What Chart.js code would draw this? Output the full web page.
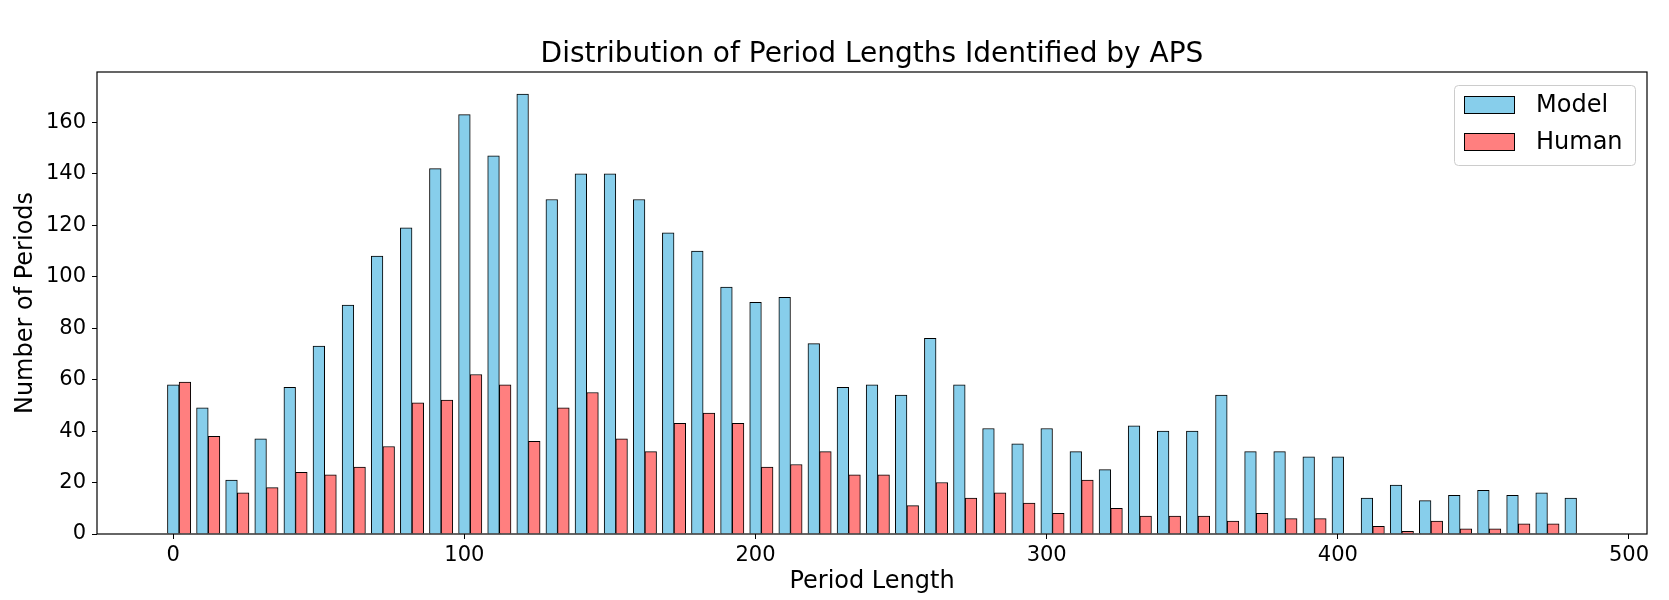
<!DOCTYPE html>
<html>
<head>
<meta charset="utf-8">
<title>Distribution of Period Lengths Identified by APS</title>
<script src="https://cdn.jsdelivr.net/npm/chart.js@4.4.1/dist/chart.umd.min.js"></script>
<style>
  html, body { margin: 0; padding: 0; background: #ffffff; }
  canvas { display: block; }
</style>
</head>
<body>
<canvas id="periodChart" width="1669" height="600"></canvas>
<script>
// bin positions (left bar of each pair sits on these)
const periodBins = [0, 10, 20, 30, 40, 50, 60, 70, 80, 90, 100, 110, 120, 130, 140, 150, 160,
  170, 180, 190, 200, 210, 220, 230, 240, 250, 260, 270, 280, 290, 300, 310, 320, 330,
  340, 350, 360, 370, 380, 390, 400, 410, 420, 430, 440, 450, 460, 470, 480];

const modelCounts = [58, 49, 21, 37, 57, 73, 89, 108, 119, 142, 163, 147, 171, 130, 140, 140, 130,
  117, 110, 96, 90, 92, 74, 57, 58, 54, 76, 58, 41, 35, 41, 32, 25, 42,
  40, 40, 54, 32, 32, 30, 30, 14, 19, 13, 15, 17, 15, 16, 14];

const humanCounts = [59, 38, 16, 18, 24, 23, 26, 34, 51, 52, 62, 58, 36, 49, 55, 37, 32,
  43, 47, 43, 26, 27, 32, 23, 23, 11, 20, 14, 16, 12, 8, 21, 10, 7,
  7, 7, 5, 8, 6, 6, 0, 3, 1, 5, 2, 2, 4, 4, 0];

const xTicks = [0, 100, 200, 300, 400, 500];
const yTicks = [0, 20, 40, 60, 80, 100, 120, 140, 160];

const seriesNames = ['Model', 'Human'];
const seriesColors = ['#87CEEB', '#FF7F7F'];

// human bar sits right next to the model bar, one bar width over
const barWidth = 4;

Chart.defaults.font.family = "'DejaVu Sans', sans-serif";
Chart.defaults.color = '#000000';

// black frame round the plot area, like matplotlib spines
const frame = {
  id: 'frame',
  afterDatasetsDraw(chart) {
    const { ctx, chartArea } = chart;
    ctx.save();
    ctx.strokeStyle = '#000000';
    ctx.lineWidth = 1.2;
    ctx.strokeRect(chartArea.left, chartArea.top,
      chartArea.right - chartArea.left, chartArea.bottom - chartArea.top);
    ctx.restore();
  }
};

// legend box drawn inside the upper right corner
const boxLegend = {
  id: 'boxLegend',
  afterDraw(chart) {
    const { ctx, chartArea } = chart;
    const w = 181, h = 80;
    const left = chartArea.right - 12 - w;
    const top = chartArea.top + 13;
    ctx.save();
    ctx.fillStyle = 'rgba(255,255,255,0.8)';
    ctx.strokeStyle = '#cccccc';
    ctx.lineWidth = 1;
    ctx.beginPath();
    ctx.roundRect(left + 0.5, top + 0.5, w, h, 4);
    ctx.fill();
    ctx.stroke();

    ctx.font = "24px 'DejaVu Sans', sans-serif";
    ctx.textBaseline = 'middle';
    ctx.textAlign = 'left';
    chart.data.datasets.forEach((ds, i) => {
      const cy = top + 20 + i * 37;
      ctx.fillStyle = ds.backgroundColor;
      ctx.fillRect(left + 10, cy - 9, 51, 18);
      ctx.strokeStyle = '#000000';
      ctx.strokeRect(left + 10.5, cy - 8.5, 50, 17);
      ctx.fillStyle = '#000000';
      ctx.fillText(ds.label, left + 82, cy + 1);
    });
    ctx.restore();
  }
};

const ctx = document.getElementById('periodChart');
new Chart(ctx, {
  type: 'bar',
  data: {
    datasets: [
      {
        label: seriesNames[0],
        data: periodBins.map((b, i) => ({ x: b, y: modelCounts[i] })),
        backgroundColor: seriesColors[0],
        borderColor: '#000000',
        borderWidth: 1,
      },
      {
        label: seriesNames[1],
        data: periodBins.map((b, i) => ({ x: b + barWidth, y: humanCounts[i] })),
        backgroundColor: seriesColors[1],
        borderColor: '#000000',
        borderWidth: 1,
      }
    ]
  },
  options: {
    responsive: false,
    animation: false,
    devicePixelRatio: 1,
    grouped: false,
    categoryPercentage: 1,
    barPercentage: 1,
    layout: { padding: { left: 0, right: 22, top: 0, bottom: 0 } },
    scales: {
      x: {
        type: 'linear',
        min: -26.2,
        max: 506.2,
        offset: false,
        afterFit: scale => { scale.height = 66; },
        afterBuildTicks: scale => { scale.ticks = xTicks.map(v => ({ value: v })); },
        grid: { offset: false, drawOnChartArea: false, drawTicks: true, tickLength: 5, color: '#000000' },
        border: { display: false },
        ticks: {
          maxRotation: 0,
          padding: 4,
          font: { size: 21 },
          callback: v => String(v),
        },
        title: {
          display: true,
          text: 'Period Length',
          font: { size: 24 },
          padding: { top: 0, bottom: 4 },
        },
      },
      y: {
        min: 0,
        max: 179.55,
        afterFit: scale => { scale.width = 97; },
        afterBuildTicks: scale => { scale.ticks = yTicks.map(v => ({ value: v })); },
        grid: { drawOnChartArea: false, drawTicks: true, tickLength: 5, color: '#000000' },
        border: { display: false },
        ticks: {
          padding: 6,
          font: { size: 21 },
          callback: v => String(v),
        },
        title: {
          display: true,
          text: 'Number of Periods',
          font: { size: 24 },
          padding: { top: 11, bottom: 0 },
        },
      }
    },
    plugins: {
      legend: { display: false },
      tooltip: { enabled: false },
      title: {
        display: true,
        fullSize: false,
        text: 'Distribution of Period Lengths Identified by APS',
        font: { size: 28, weight: 'normal' },
        padding: { top: 38.4, bottom: 0 },
      },
    },
  },
  plugins: [frame, boxLegend]
});
</script>
</body>
</html>
